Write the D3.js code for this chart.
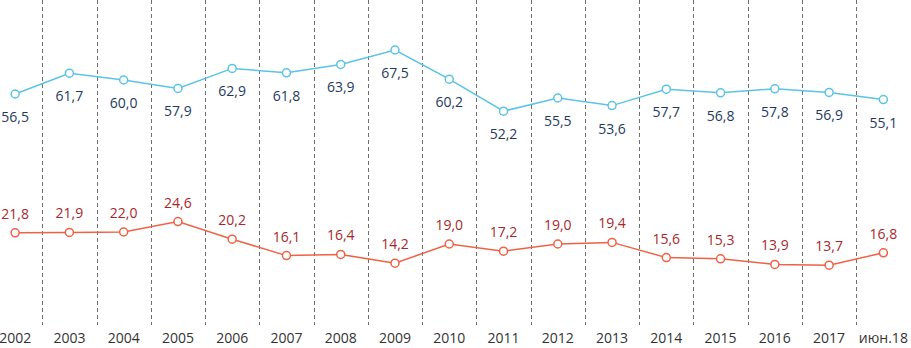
<!DOCTYPE html>
<html>
<head>
<meta charset="utf-8">
<script src="https://cdn.jsdelivr.net/npm/d3@7"></script>
<style>
  body { margin: 0; background: #fff; }
  svg { display: block; font-family: "Open Sans", "Liberation Sans", sans-serif; }
</style>
</head>
<body>
<svg id="chart"></svg>
<script>
// ******************** Data ************************
var categories = ["2002", "2003", "2004", "2005", "2006", "2007", "2008", "2009", "2010",
    "2011", "2012", "2013", "2014", "2015", "2016", "2017", "июн.18"];
var blueValues = [56.5, 61.7, 60.0, 57.9, 62.9, 61.8, 63.9, 67.5, 60.2, 52.2, 55.5, 53.6,
    57.7, 56.8, 57.8, 56.9, 55.1];
var redValues = [21.8, 21.9, 22.0, 24.6, 20.2, 16.1, 16.4, 14.2, 19.0, 17.2, 19.0, 19.4,
    15.6, 15.3, 13.9, 13.7, 16.8];

// ******************** Globals ************************
var width = 911, height = 348;
var x = d3.scaleBand().domain(categories).range([-12, 910.5]).padding(0);
var y = d3.scaleLinear().domain([0, 80]).range([320, 0]);
var fmt = d3.formatLocale({decimal: ",", thousands: " ", grouping: [3], currency: ["", ""]}).format(".1f");

var svg = d3.select("#chart").attr("width", width).attr("height", height);

function cx(d) { return x(d) + x.bandwidth() / 2; }

// dashed dividers between categories
svg.append("g").selectAll("line")
    .data(categories)
    .enter().append("line")
    .attr("x1", function (d) { return Math.round(x(d) + x.bandwidth()) + 0.5; })
    .attr("x2", function (d) { return Math.round(x(d) + x.bandwidth()) + 0.5; })
    .attr("y1", 0)
    .attr("y2", 325)
    .style("stroke", "#6e6e6e")
    .style("stroke-width", 1)
    .style("stroke-dasharray", "4,3");

// x labels
svg.append("g").selectAll("text")
    .data(categories)
    .enter().append("text")
    .attr("x", cx)
    .attr("y", 343)
    .attr("text-anchor", "middle")
    .style("font-size", "14px")
    .style("fill", "#333")
    .text(function (d) { return d; });

function drawSeries(values, lineColor, labelColor, labelDy) {
    var g = svg.append("g");
    var line = d3.line()
        .x(function (d, i) { return cx(categories[i]); })
        .y(function (d) { return y(d); });
    g.append("path")
        .datum(values)
        .attr("d", line)
        .style("fill", "none")
        .style("stroke", lineColor)
        .style("stroke-width", 1.5);
    g.selectAll("circle")
        .data(values)
        .enter().append("circle")
        .attr("cx", function (d, i) { return cx(categories[i]); })
        .attr("cy", y)
        .attr("r", 4)
        .style("fill", "#fff")
        .style("stroke", lineColor)
        .style("stroke-width", 1.5);
    g.selectAll("text")
        .data(values)
        .enter().append("text")
        .attr("x", function (d, i) { return cx(categories[i]); })
        .attr("y", function (d) { return y(d) + labelDy; })
        .attr("text-anchor", "middle")
        .style("font-size", "14px")
        .style("fill", labelColor)
        .text(fmt);
}

drawSeries(blueValues, "#5bc3e6", "#1f3a60", 28);
drawSeries(redValues, "#ef6245", "#a8282c", -14);
</script>
</body>
</html>
